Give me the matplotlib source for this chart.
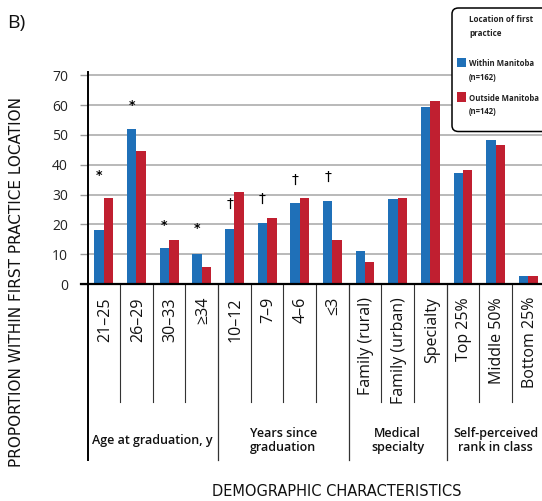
import numpy as np
import matplotlib
matplotlib.use("Agg")
import matplotlib.pyplot as plt
from matplotlib.patches import FancyBboxPatch, Rectangle

plt.rcParams['font.family'] = ['Open Sans', 'DejaVu Sans']

kategoriler = ["21–25", "26–29", "30–33", "≥34",
               "10–12", "7–9", "4–6", "≤3",
               "Family (rural)", "Family (urban)", "Specialty",
               "Top 25%", "Middle 50%", "Bottom 25%"]
manitoba_ici = [18, 52, 12.2, 10.2, 18.6, 20.6, 27, 28, 10.9, 28.4, 59.3, 37.1, 48.2, 2.8]
manitoba_disi = [29, 44.6, 14.6, 5.8, 30.7, 22, 28.7, 14.6, 7.5, 28.8, 61.4, 38.1, 46.6, 2.8]

# anlamlilik isaretleri: (kategori, sembol, yukseklik)
isaretler = [(0, "*", 36.5), (1, "*", 60), (2, "*", 19.7), (3, "*", 18.7),
             (4, "†", 27), (5, "†", 28.6), (6, "†", 35), (7, "†", 35.9)]

gruplar = ["Age at graduation, y", "Years since\ngraduation",
           "Medical\nspecialty", "Self-perceived\nrank in class"]
grup_boyu = [4, 4, 3, 3]

mavi = "#1f70b8"
kirmizi = "#c01f30"

W, H = 542, 501
fig = plt.figure(figsize=(W / 100, H / 100), dpi=100)

def px(x, y):
    return x / W, 1 - y / H

sol, ust, alt, sag = 87.5, 71.7, 284, 544.6
ax = fig.add_axes([sol / W, 1 - alt / H, (sag - sol) / W, (alt - ust) / H])

x = np.arange(len(kategoriler))
gen = 0.29
ax.bar(x - gen / 2, manitoba_ici, gen, color=mavi, zorder=3)
ax.bar(x + gen / 2, manitoba_disi, gen, color=kirmizi, zorder=3)

for i, s, h in isaretler:
    ax.text(i - gen / 2, h, s, ha="center", va="center",
            fontsize=9 if s == "*" else 10,
            fontweight="bold" if s == "*" else "normal",
            color="black", family=["DejaVu Sans"], zorder=4)

ax.set_xlim(-0.5, len(kategoriler) - 0.5)
ax.set_ylim(0, 71.2)
ax.set_yticks(range(0, 71, 10))
ax.tick_params(axis="y", length=6, width=1, color="#999999", labelsize=10, pad=8)
ax.set_xticks([])
for t in ax.get_yticklabels():
    t.set_color("#222222")
ax.grid(axis="y", color="#a6a6a6", linewidth=1.1, zorder=0)
ax.axhline(0, color="black", linewidth=1.6, zorder=5, xmin=-0.014, clip_on=False)
for k in ["top", "right", "bottom"]:
    ax.spines[k].set_visible(False)
ax.spines["left"].set_linewidth(1.4)

# x ekseni alti etiket alani
tr = ax.get_xaxis_transform()
olc = alt - ust
def ay(ypx):
    return (alt - ypx) / olc

ax.plot([-0.5, -0.5], [0, ay(460)], transform=tr, color="black", lw=1.4, clip_on=False)
for i, k in enumerate(kategoriler):
    ax.text(i + 0.04, ay(297), k, rotation=90, ha="center", va="top",
            fontsize=11.5, transform=tr, color="#111111")

bas = 0
for g, n in zip(gruplar, grup_boyu):
    son = bas + n
    for j in range(bas + 1, son):
        ax.plot([j - 0.5, j - 0.5], [0, ay(401.7)], transform=tr,
                color="#333333", lw=0.8, clip_on=False)
    if son < len(kategoriler):
        ax.plot([son - 0.5, son - 0.5], [0, ay(460)], transform=tr,
                color="#333333", lw=0.9, clip_on=False)
    ax.text((bas + son - 1) / 2, ay(440.5), g, ha="center", va="center",
            fontsize=9, fontweight="semibold", linespacing=1.1,
            transform=tr, color="#111111")
    bas = son

fig.text(*px(17, 282), "PROPORTION WITHIN FIRST PRACTICE LOCATION", rotation=90,
         ha="center", va="center", fontsize=11, color="#111111",
         family=["DejaVu Sans"])
fig.text(*px(336.5, 492), "DEMOGRAPHIC CHARACTERISTICS", ha="center", va="center",
         fontsize=10.5, color="#111111", family=["DejaVu Sans"])
fig.text(*px(7, 23), "B)", ha="left", va="center", fontsize=14, color="#111111")

# lejant kutusu
kutu = FancyBboxPatch(px(452, 131.5), (570 - 452) / W, (131.5 - 8) / H,
                      boxstyle="round,pad=0,rounding_size=0.012",
                      transform=fig.transFigure, facecolor="white",
                      edgecolor="black", linewidth=1.1, zorder=10)
fig.patches.append(kutu)
fig.text(*px(469, 26.5), "Location of first\npractice", ha="left", va="center",
         fontsize=5.8, fontweight="bold", linespacing=1.6, color="#222222", zorder=11)
for yk, renk, etiket in [(70.5, mavi, "Within Manitoba\n(n=162)"),
                          (105, kirmizi, "Outside Manitoba\n(n=142)")]:
    fig.patches.append(Rectangle(px(456.7, yk - 3.5), 9 / W, 9 / H,
                                 transform=fig.transFigure, facecolor=renk,
                                 edgecolor="none", zorder=11))
    fig.text(*px(469, yk), etiket, ha="left", va="center", fontsize=5.6,
             fontweight="bold", linespacing=1.7, color="#222222", zorder=11)

fig.savefig("out.png", dpi=100)
